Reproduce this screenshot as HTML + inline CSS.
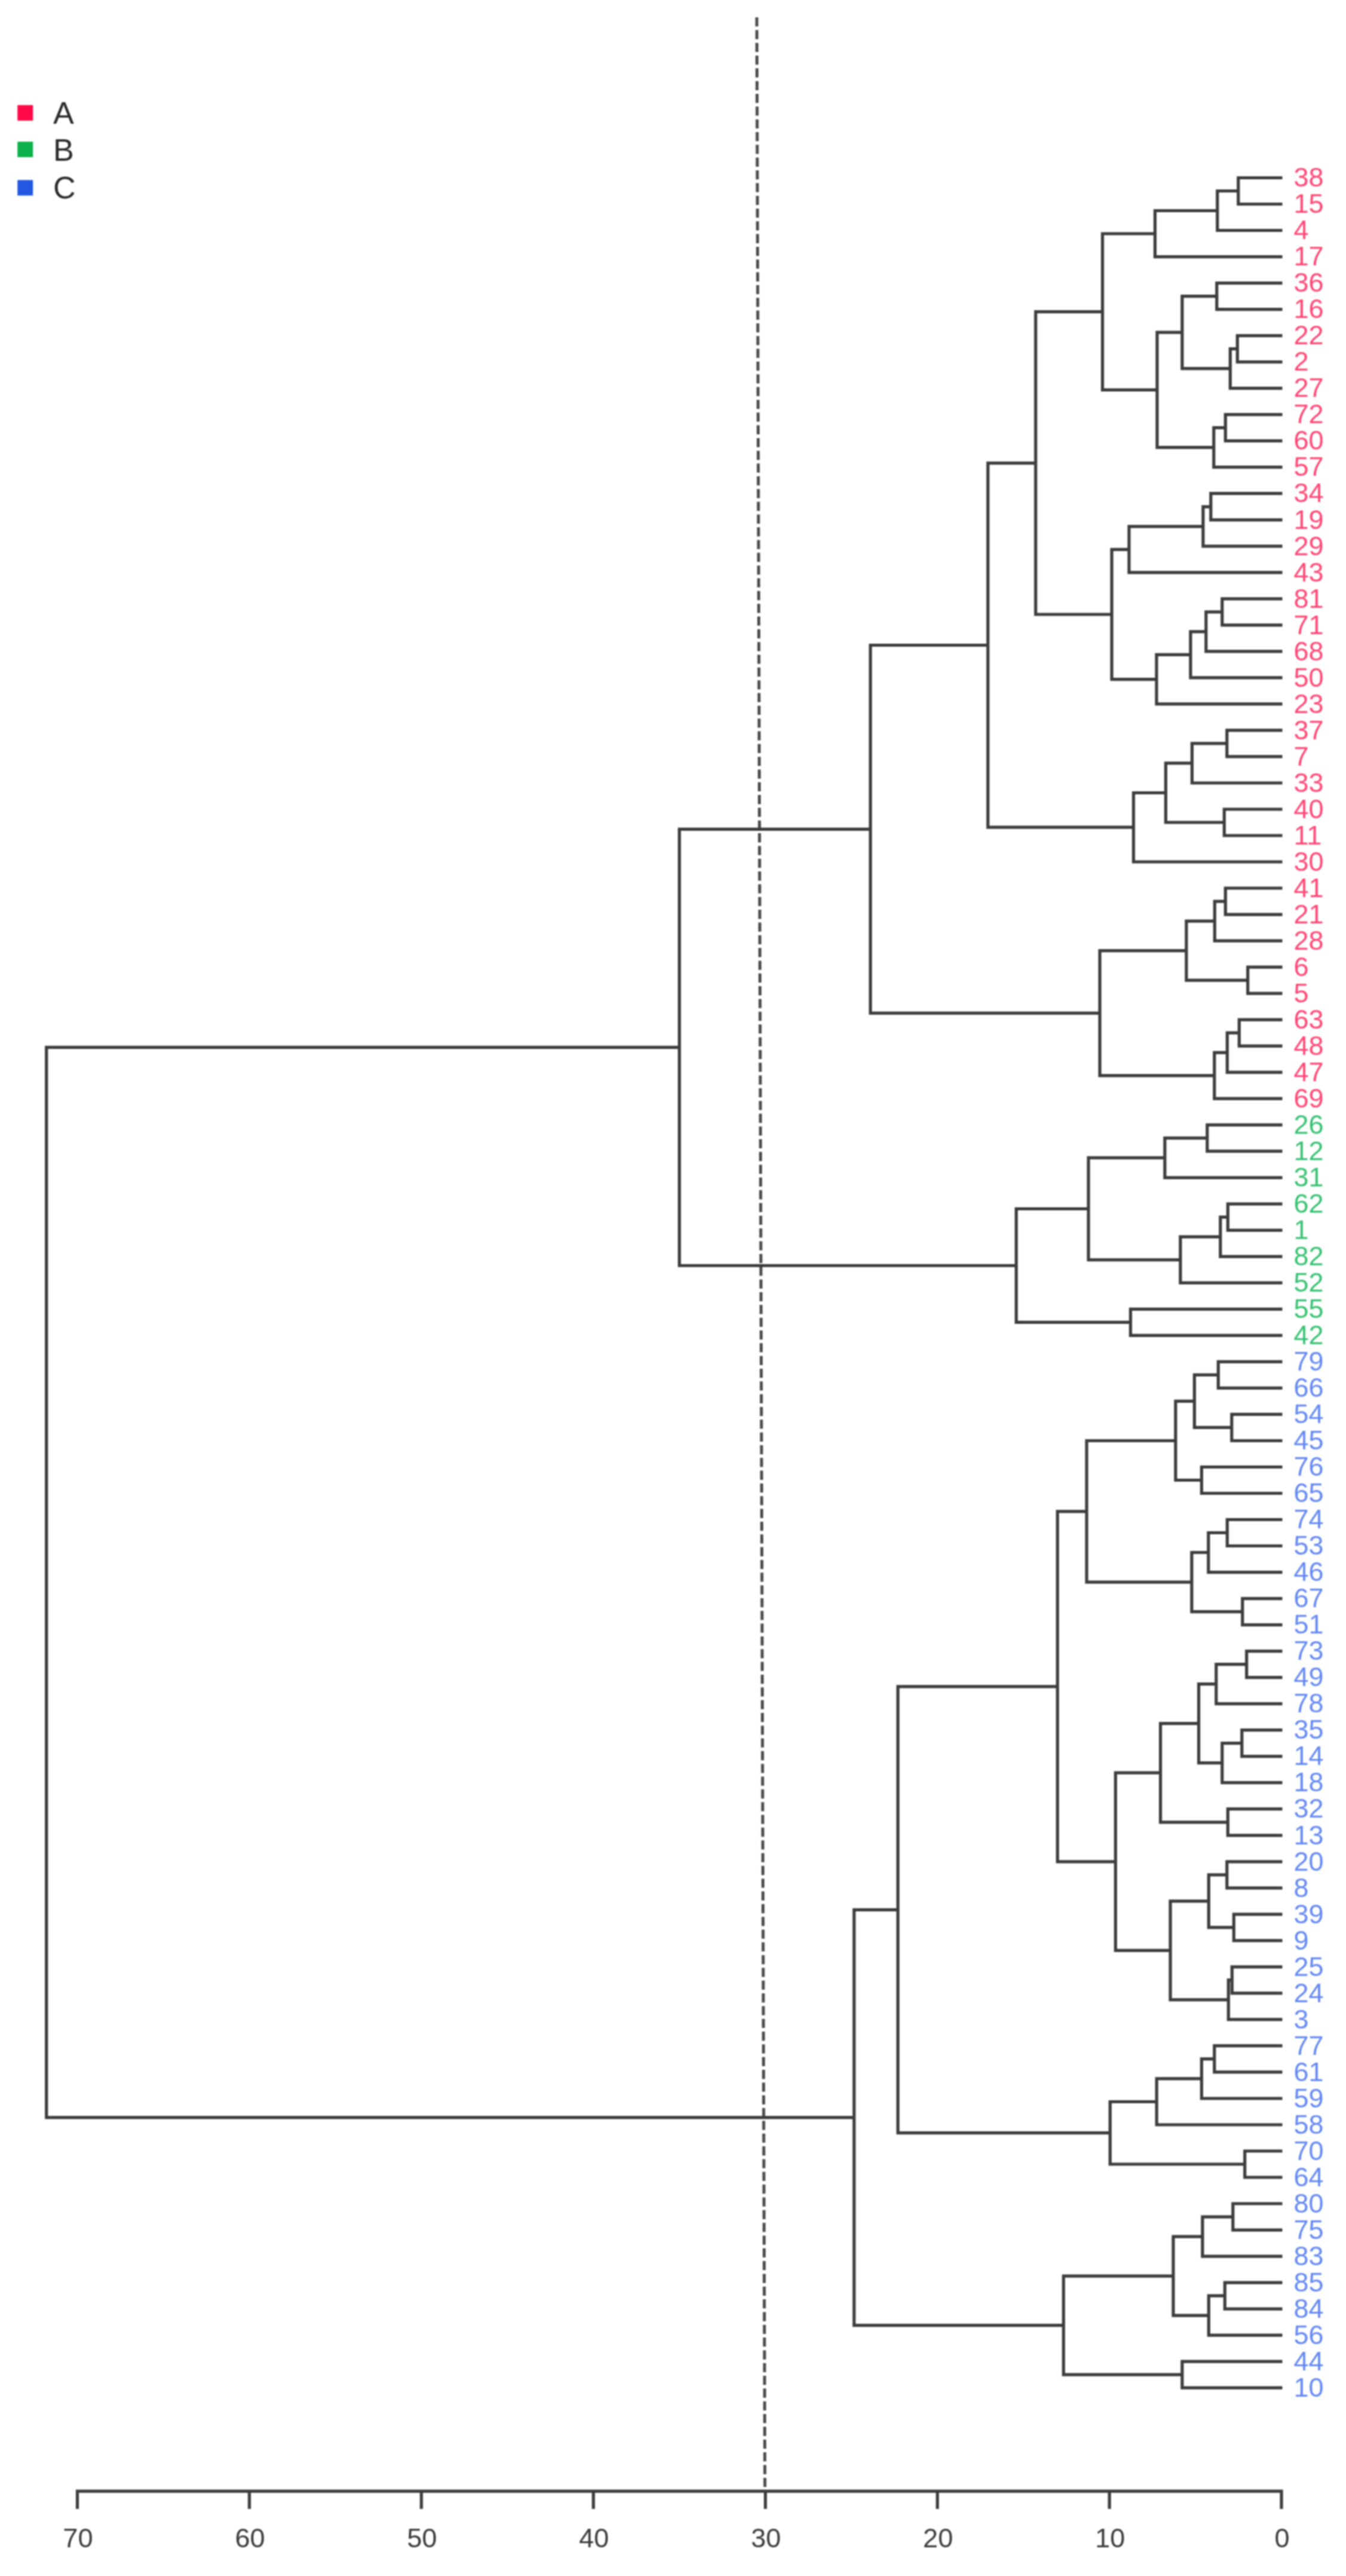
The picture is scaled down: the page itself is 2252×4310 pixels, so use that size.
<!DOCTYPE html>
<html><head><meta charset="utf-8"><title>Dendrogram</title>
<style>
html,body{margin:0;padding:0;background:#fff;}
body{width:2252px;height:4310px;overflow:hidden;}
svg{display:block;font-family:"Liberation Sans",sans-serif;filter:blur(1.1px);}
</style></head><body>
<svg width="2252" height="4310" viewBox="0 0 2252 4310">
<rect width="2252" height="4310" fill="#fff"/>
<rect x="29.2" y="175.8" width="26" height="26" fill="#ff0a47"/>
<text x="89" y="206.5" font-size="52" fill="#2a2a2a">A</text>
<rect x="29.2" y="237.0" width="26" height="26" fill="#0db14b"/>
<text x="89" y="269.0" font-size="52" fill="#2a2a2a">B</text>
<rect x="29.2" y="301.2" width="26" height="26" fill="#2358e0"/>
<text x="89" y="331.5" font-size="52" fill="#2a2a2a">C</text>
<line x1="1266.2" y1="29" x2="1279.8" y2="4166" stroke="#4a4a4a" stroke-width="5" stroke-dasharray="15.3 6.03"/>
<path d="M2145.5 297.5H2071.8V341.5H2145.5M2071.8 319.5H2036.8V385.5H2145.5M2036.8 352.5H1932.5V429.6H2145.5M2145.5 473.6H2035.8V517.6H2145.5M2145.5 561.6H2070.3V605.6H2145.5M2070.3 583.6H2058.3V649.7H2145.5M2035.8 495.6H1977.9V616.6H2058.3M2145.5 693.7H2050.3V737.7H2145.5M2050.3 715.7H2030.8V781.7H2145.5M1977.9 556.1H1936.0V748.7H2030.8M1932.5 391.0H1844.6V652.4H1936.0M2145.5 825.7H2025.8V869.8H2145.5M2025.8 847.8H2012.9V913.8H2145.5M2012.9 880.8H1889.0V957.8H2145.5M2145.5 1001.8H2044.8V1045.8H2145.5M2044.8 1023.8H2017.8V1089.9H2145.5M2017.8 1056.8H1991.9V1133.9H2145.5M1991.9 1095.4H1935.0V1177.9H2145.5M1889.0 919.3H1860.1V1136.6H1935.0M1844.6 521.7H1732.8V1028.0H1860.1M2145.5 1221.9H2052.8V1265.9H2145.5M2052.8 1243.9H1994.4V1310.0H2145.5M2145.5 1354.0H2048.3V1398.0H2145.5M1994.4 1276.9H1950.4V1376.0H2048.3M1950.4 1326.5H1896.5V1442.0H2145.5M1732.8 774.8H1652.9V1384.2H1896.5M2145.5 1486.0H2050.3V1530.1H2145.5M2050.3 1508.1H2032.3V1574.1H2145.5M2145.5 1618.1H2087.7V1662.1H2145.5M2032.3 1541.1H1984.9V1640.1H2087.7M2145.5 1706.1H2073.3V1750.2H2145.5M2073.3 1728.2H2053.3V1794.2H2145.5M2053.3 1761.2H2031.8V1838.2H2145.5M1984.9 1590.6H1840.1V1799.7H2031.8M1652.9 1079.5H1456.3V1695.1H1840.1M2145.5 1882.2H2019.8V1926.2H2145.5M2019.8 1904.2H1948.9V1970.3H2145.5M2145.5 2014.3H2054.3V2058.3H2145.5M2054.3 2036.3H2041.8V2102.3H2145.5M2041.8 2069.3H1974.9V2146.3H2145.5M1948.9 1937.2H1821.1V2107.8H1974.9M2145.5 2190.4H1891.5V2234.4H2145.5M1821.1 2022.5H1700.3V2212.4H1891.5M1456.3 1387.3H1136.7V2117.5H1700.3M2145.5 2278.4H2038.3V2322.4H2145.5M2145.5 2366.4H2060.8V2410.5H2145.5M2038.3 2300.4H1998.4V2388.4H2060.8M2145.5 2454.5H2010.4V2498.5H2145.5M1998.4 2344.4H1966.9V2476.5H2010.4M2145.5 2542.5H2053.3V2586.5H2145.5M2053.3 2564.5H2021.8V2630.6H2145.5M2145.5 2674.6H2078.8V2718.6H2145.5M2021.8 2597.5H1993.9V2696.6H2078.8M1966.9 2410.5H1818.1V2647.1H1993.9M2145.5 2762.6H2085.7V2806.6H2145.5M2085.7 2784.6H2034.8V2850.7H2145.5M2145.5 2894.7H2077.8V2938.7H2145.5M2077.8 2916.7H2044.8V2982.7H2145.5M2034.8 2817.6H2005.6V2949.7H2044.8M2145.5 3026.7H2054.3V3070.8H2145.5M2005.6 2883.7H1941.6V3048.8H2054.3M2145.5 3114.8H2052.8V3158.8H2145.5M2145.5 3202.8H2064.3V3246.8H2145.5M2052.8 3136.8H2022.3V3224.8H2064.3M2145.5 3290.9H2061.3V3334.9H2145.5M2061.3 3312.9H2055.3V3378.9H2145.5M2022.3 3180.8H1958.1V3345.9H2055.3M1941.6 2966.2H1866.4V3263.3H1958.1M1818.1 2528.8H1769.3V3114.8H1866.4M2145.5 3422.9H2031.8V3466.9H2145.5M2031.8 3444.9H2010.4V3511.0H2145.5M2010.4 3477.9H1935.2V3555.0H2145.5M2145.5 3599.0H2082.7V3643.0H2145.5M1935.2 3516.5H1857.3V3621.0H2082.7M1769.3 2821.8H1502.3V3568.7H1857.3M2145.5 3687.0H2062.8V3731.1H2145.5M2062.8 3709.1H2011.9V3775.1H2145.5M2145.5 3819.1H2049.3V3863.1H2145.5M2049.3 3841.1H2022.3V3907.1H2145.5M2011.9 3742.1H1963.0V3874.1H2022.3M2145.5 3951.2H1977.9V3995.2H2145.5M1963.0 3808.1H1779.4V3973.2H1977.9M1502.3 3195.3H1429.0V3890.6H1779.4M1136.7 1752.4H77.7V3542.9H1429.0" fill="none" stroke="#3c3c3c" stroke-width="5.2" stroke-linejoin="miter" stroke-linecap="butt"/>
<g font-size="45">
<text x="2164.5" y="312.2" fill="#ff4674">38</text>
<text x="2164.5" y="356.2" fill="#ff4674">15</text>
<text x="2164.5" y="400.2" fill="#ff4674">4</text>
<text x="2164.5" y="444.3" fill="#ff4674">17</text>
<text x="2164.5" y="488.3" fill="#ff4674">36</text>
<text x="2164.5" y="532.3" fill="#ff4674">16</text>
<text x="2164.5" y="576.3" fill="#ff4674">22</text>
<text x="2164.5" y="620.3" fill="#ff4674">2</text>
<text x="2164.5" y="664.4" fill="#ff4674">27</text>
<text x="2164.5" y="708.4" fill="#ff4674">72</text>
<text x="2164.5" y="752.4" fill="#ff4674">60</text>
<text x="2164.5" y="796.4" fill="#ff4674">57</text>
<text x="2164.5" y="840.4" fill="#ff4674">34</text>
<text x="2164.5" y="884.5" fill="#ff4674">19</text>
<text x="2164.5" y="928.5" fill="#ff4674">29</text>
<text x="2164.5" y="972.5" fill="#ff4674">43</text>
<text x="2164.5" y="1016.5" fill="#ff4674">81</text>
<text x="2164.5" y="1060.5" fill="#ff4674">71</text>
<text x="2164.5" y="1104.6" fill="#ff4674">68</text>
<text x="2164.5" y="1148.6" fill="#ff4674">50</text>
<text x="2164.5" y="1192.6" fill="#ff4674">23</text>
<text x="2164.5" y="1236.6" fill="#ff4674">37</text>
<text x="2164.5" y="1280.6" fill="#ff4674">7</text>
<text x="2164.5" y="1324.7" fill="#ff4674">33</text>
<text x="2164.5" y="1368.7" fill="#ff4674">40</text>
<text x="2164.5" y="1412.7" fill="#ff4674">11</text>
<text x="2164.5" y="1456.7" fill="#ff4674">30</text>
<text x="2164.5" y="1500.7" fill="#ff4674">41</text>
<text x="2164.5" y="1544.8" fill="#ff4674">21</text>
<text x="2164.5" y="1588.8" fill="#ff4674">28</text>
<text x="2164.5" y="1632.8" fill="#ff4674">6</text>
<text x="2164.5" y="1676.8" fill="#ff4674">5</text>
<text x="2164.5" y="1720.8" fill="#ff4674">63</text>
<text x="2164.5" y="1764.9" fill="#ff4674">48</text>
<text x="2164.5" y="1808.9" fill="#ff4674">47</text>
<text x="2164.5" y="1852.9" fill="#ff4674">69</text>
<text x="2164.5" y="1896.9" fill="#38c172">26</text>
<text x="2164.5" y="1940.9" fill="#38c172">12</text>
<text x="2164.5" y="1985.0" fill="#38c172">31</text>
<text x="2164.5" y="2029.0" fill="#38c172">62</text>
<text x="2164.5" y="2073.0" fill="#38c172">1</text>
<text x="2164.5" y="2117.0" fill="#38c172">82</text>
<text x="2164.5" y="2161.0" fill="#38c172">52</text>
<text x="2164.5" y="2205.1" fill="#38c172">55</text>
<text x="2164.5" y="2249.1" fill="#38c172">42</text>
<text x="2164.5" y="2293.1" fill="#6488f2">79</text>
<text x="2164.5" y="2337.1" fill="#6488f2">66</text>
<text x="2164.5" y="2381.1" fill="#6488f2">54</text>
<text x="2164.5" y="2425.2" fill="#6488f2">45</text>
<text x="2164.5" y="2469.2" fill="#6488f2">76</text>
<text x="2164.5" y="2513.2" fill="#6488f2">65</text>
<text x="2164.5" y="2557.2" fill="#6488f2">74</text>
<text x="2164.5" y="2601.2" fill="#6488f2">53</text>
<text x="2164.5" y="2645.3" fill="#6488f2">46</text>
<text x="2164.5" y="2689.3" fill="#6488f2">67</text>
<text x="2164.5" y="2733.3" fill="#6488f2">51</text>
<text x="2164.5" y="2777.3" fill="#6488f2">73</text>
<text x="2164.5" y="2821.3" fill="#6488f2">49</text>
<text x="2164.5" y="2865.4" fill="#6488f2">78</text>
<text x="2164.5" y="2909.4" fill="#6488f2">35</text>
<text x="2164.5" y="2953.4" fill="#6488f2">14</text>
<text x="2164.5" y="2997.4" fill="#6488f2">18</text>
<text x="2164.5" y="3041.4" fill="#6488f2">32</text>
<text x="2164.5" y="3085.5" fill="#6488f2">13</text>
<text x="2164.5" y="3129.5" fill="#6488f2">20</text>
<text x="2164.5" y="3173.5" fill="#6488f2">8</text>
<text x="2164.5" y="3217.5" fill="#6488f2">39</text>
<text x="2164.5" y="3261.5" fill="#6488f2">9</text>
<text x="2164.5" y="3305.6" fill="#6488f2">25</text>
<text x="2164.5" y="3349.6" fill="#6488f2">24</text>
<text x="2164.5" y="3393.6" fill="#6488f2">3</text>
<text x="2164.5" y="3437.6" fill="#6488f2">77</text>
<text x="2164.5" y="3481.6" fill="#6488f2">61</text>
<text x="2164.5" y="3525.7" fill="#6488f2">59</text>
<text x="2164.5" y="3569.7" fill="#6488f2">58</text>
<text x="2164.5" y="3613.7" fill="#6488f2">70</text>
<text x="2164.5" y="3657.7" fill="#6488f2">64</text>
<text x="2164.5" y="3701.7" fill="#6488f2">80</text>
<text x="2164.5" y="3745.8" fill="#6488f2">75</text>
<text x="2164.5" y="3789.8" fill="#6488f2">83</text>
<text x="2164.5" y="3833.8" fill="#6488f2">85</text>
<text x="2164.5" y="3877.8" fill="#6488f2">84</text>
<text x="2164.5" y="3921.8" fill="#6488f2">56</text>
<text x="2164.5" y="3965.9" fill="#6488f2">44</text>
<text x="2164.5" y="4009.9" fill="#6488f2">10</text>
</g>
<path d="M129.4 4168.2H2144.0M2144.0 4168.2V4195.2M1856.2 4168.2V4195.2M1568.4 4168.2V4195.2M1280.6 4168.2V4195.2M992.8 4168.2V4195.2M705.0 4168.2V4195.2M417.2 4168.2V4195.2M129.4 4168.2V4195.2" fill="none" stroke="#3c3c3c" stroke-width="5.2" stroke-linecap="square"/>
<g font-size="45" fill="#3a3a3a" text-anchor="middle">
<text x="2145.0" y="4261.5">0</text>
<text x="1857.2" y="4261.5">10</text>
<text x="1569.4" y="4261.5">20</text>
<text x="1281.6" y="4261.5">30</text>
<text x="993.8" y="4261.5">40</text>
<text x="706.0" y="4261.5">50</text>
<text x="418.2" y="4261.5">60</text>
<text x="130.4" y="4261.5">70</text>
</g>
</svg>
</body></html>
